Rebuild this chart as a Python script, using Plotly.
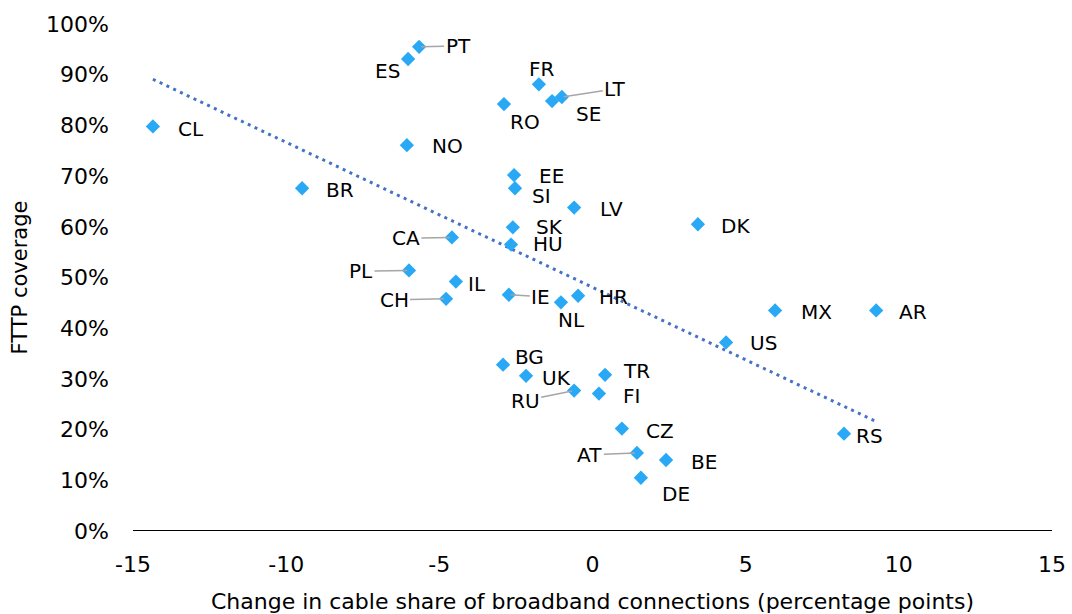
import numpy as np
import plotly.graph_objects as go

countries = ["CL", "BR", "PT", "ES", "NO", "FR", "RO", "LT", "SE", "EE", "SI", "LV", "DK",
             "SK", "HU", "CA", "PL", "IL", "CH", "IE", "NL", "HR", "MX", "AR", "US", "BG",
             "UK", "TR", "RU", "FI", "CZ", "AT", "BE", "DE", "RS"]
cable_change = [-14.35, -9.48, -5.66, -6.02, -6.06, -1.75, -2.89, -1.00, -1.32, -2.56, -2.53,
                -0.60, 3.44, -2.60, -2.66, -4.59, -5.99, -4.46, -4.78, -2.73, -1.03, -0.47,
                5.96, 9.26, 4.36, -2.92, -2.17, 0.41, -0.60, 0.21, 0.96, 1.45, 2.40, 1.58, 8.21]
fttp_coverage = [0.798, 0.676, 0.955, 0.931, 0.761, 0.881, 0.842, 0.856, 0.848, 0.702, 0.676,
                 0.638, 0.605, 0.599, 0.565, 0.579, 0.514, 0.492, 0.458, 0.466, 0.451, 0.464,
                 0.435, 0.435, 0.372, 0.328, 0.306, 0.308, 0.277, 0.271, 0.202, 0.154, 0.140,
                 0.105, 0.192]

# label placement (pixel offsets from the point) and whether a leader line is drawn
label_dx = [38, 38, 39, -21, 41, 3, 21, 53, 36, 37, 26, 37, 38, 37, 37, -46, -48, 21, -52, 32,
            11, 35, 41, 37, 37, 26, 30, 31, -49, 33, 38, -47, 38, 35, 25]
label_dy = [3, 2, -1, 12, 1, -15, 18, -8, 13, 1, 8, 1, 2, 0, -1, 1, 1, 2, 1, 2,
            18, 1, 2, 2, 1, -8, 2, -4, 10, 2, 2, 2, 2, 16, 2]
leader = {"PT", "LT", "CA", "PL", "CH", "IE", "RU", "AT"}

x_ticks = [-15, -10, -5, 0, 5, 10, 15]
y_ticks = [0, 0.1, 0.2, 0.3, 0.4, 0.5, 0.6, 0.7, 0.8, 0.9, 1.0]

FONT = "DejaVu Sans, Liberation Sans, sans-serif"

fig = go.Figure()

# linear trendline fitted to the data
slope, intercept = np.polyfit(cable_change, fttp_coverage, 1)
tx = np.array([min(cable_change), max(cable_change)])
fig.add_trace(go.Scatter(x=tx, y=slope * tx + intercept, mode="lines",
                         line=dict(color="#4472C4", width=3, dash="3px,4.5px"),
                         hoverinfo="skip", showlegend=False))

fig.add_trace(go.Scatter(x=cable_change, y=fttp_coverage, mode="markers", text=countries,
                         marker=dict(symbol="diamond", size=11, color="#29A9F5",
                                     line=dict(width=0)),
                         showlegend=False))

for c, xv, yv, dx, dy in zip(countries, cable_change, fttp_coverage, label_dx, label_dy):
    if c in leader:
        fig.add_annotation(x=xv, y=yv, text=c, showarrow=True, ax=dx, ay=dy,
                           arrowhead=0, arrowwidth=1.5, arrowcolor="#A6A6A6", standoff=2,
                           font=dict(family=FONT, size=20, color="#000000"))
    else:
        fig.add_annotation(x=xv, y=yv, text=c, showarrow=False, xshift=dx, yshift=-dy,
                           font=dict(family=FONT, size=20, color="#000000"))

fig.update_layout(
    width=1072, height=614,
    margin=dict(l=133, r=20, t=24, b=83),
    plot_bgcolor="white", paper_bgcolor="white",
    font=dict(family=FONT, size=20, color="#000000"),
    xaxis=dict(range=[-15, 15], tickvals=x_ticks, ticktext=[str(v) for v in x_ticks],
               showgrid=False, zeroline=False, showline=False, ticks="", automargin=False,
               ticklabelstandoff=18, tickfont=dict(size=22, color="#000000"),
               title=dict(text="Change in cable share of broadband connections (percentage points)",
                          font=dict(size=22), standoff=18)),
    yaxis=dict(range=[0, 1.0], tickvals=y_ticks, tickformat=".0%",
               showgrid=False, zeroline=False, showline=False, ticks="", automargin=False,
               ticklabelstandoff=23, tickfont=dict(size=22, color="#000000"),
               title=dict(text="FTTP coverage", font=dict(size=21), standoff=12)),
)

# bottom axis line at 0%
fig.add_shape(type="line", xref="paper", yref="y", x0=0, x1=1, y0=0, y1=0,
              line=dict(color="#000000", width=2), layer="above")

fig.write_html("out.html", config={"displayModeBar": False},
               post_script="document.body.style.margin='0';")
